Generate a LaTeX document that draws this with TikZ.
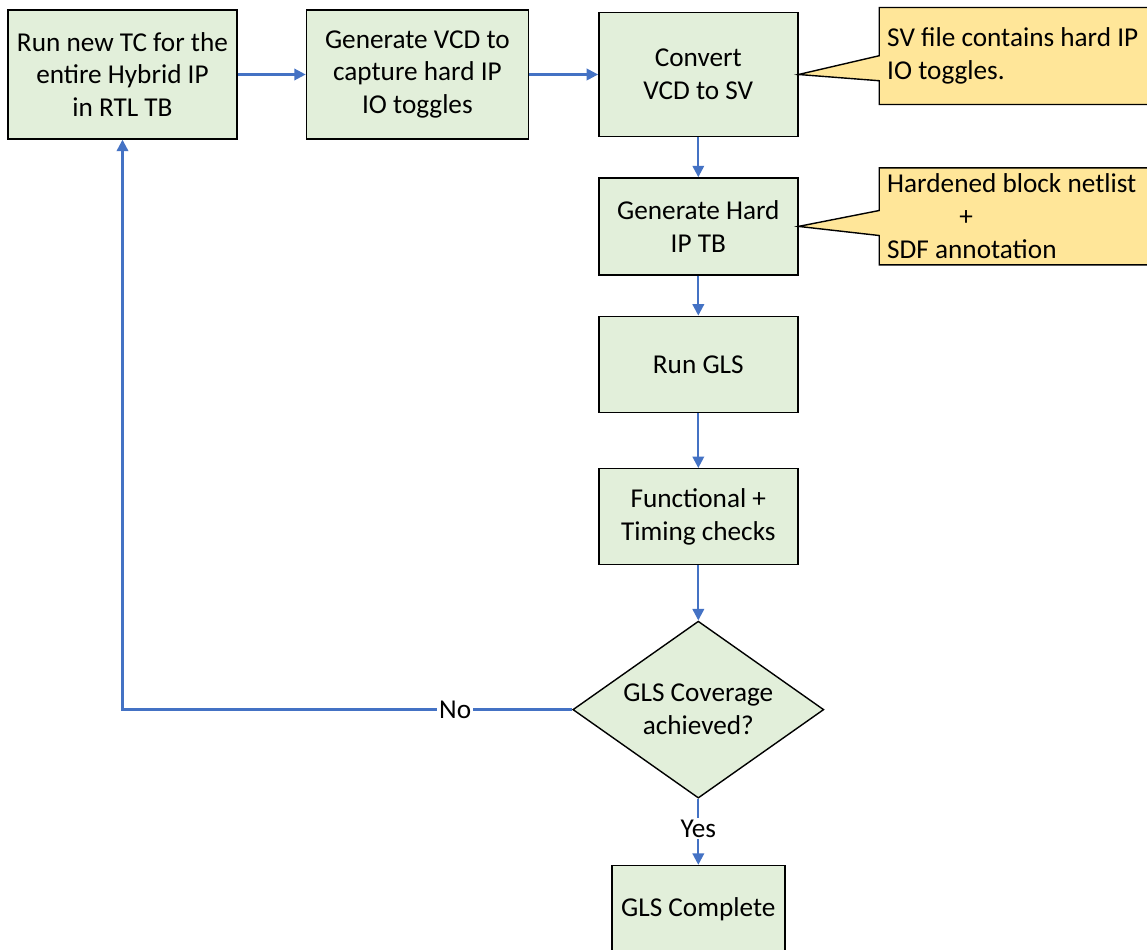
\documentclass[tikz,border=0pt]{standalone}
\usepackage{fontspec}
\setmainfont{Carlito}
\usepackage{tikz}
\usetikzlibrary{positioning, arrows.meta, shapes.geometric, shapes.callouts}
\definecolor{stepgreen}{HTML}{E2EFDA}
\definecolor{noteyellow}{HTML}{FFE699}
\definecolor{flowblue}{HTML}{4472C4}

\begin{document}
\begin{tikzpicture}[
    >={Triangle[length=6.5pt, width=6.5pt]},
    node distance=0.8cm and 1.36cm,
    block/.style={
        rectangle, draw=black, fill=stepgreen, line width=0.8pt,
        align=center, font=\fontsize{15.5}{18.7}\selectfont
    },
    decision/.style={
        diamond, aspect=1.42, draw=black, fill=stepgreen, line width=0.8pt,
        inner sep=0pt, align=center, font=\fontsize{15.5}{18.7}\selectfont,
        minimum width=5.02cm, minimum height=3.54cm
    },
    note/.style={
        rectangle callout, draw=black, fill=noteyellow, line width=0.8pt,
        callout pointer width=0.5cm, align=flush left, text width=6cm,
        inner xsep=0.16cm, font=\fontsize{15.5}{18.7}\selectfont
    },
    arrow/.style={->, line width=1.3pt, draw=flowblue},
    lbl/.style={fill=white, text=black, inner sep=1pt,
        font=\fontsize{15.5}{18.7}\selectfont},
]
\useasboundingbox (0,0) rectangle (22.94,-19);

% ── Top row ────────────────────────────────────────────────────────────────
\node[block, minimum width=4.58cm, minimum height=2.58cm] (runtc) at (2.45,-1.49)
    {Run new TC for the\\entire Hybrid IP\\in RTL TB};
\node[block, right=1.36cm of runtc, minimum width=4.44cm, minimum height=2.58cm] (genvcd)
    {Generate VCD to\\capture hard IP\\IO toggles};
\node[block, right=1.38cm of genvcd, minimum width=3.98cm, minimum height=2.48cm] (convert)
    {Convert\\VCD to SV};

% ── Main column ────────────────────────────────────────────────────────────
\node[block, below=0.8cm of convert, minimum width=3.98cm, minimum height=1.94cm] (gentb)
    {Generate Hard\\IP TB};
\node[block, below=0.8cm of gentb, minimum width=3.98cm, minimum height=1.92cm] (rungls)
    {Run GLS};
\node[block, below=1.1cm of rungls, minimum width=3.98cm, minimum height=1.92cm] (checks)
    {Functional +\\Timing checks};
\node[decision, below=1.1cm of checks] (coverage)
    {GLS Coverage\\achieved?};
\node[block, below=1.32cm of coverage, minimum width=3.46cm, minimum height=1.76cm] (done)
    {GLS Complete};

% ── Callouts ───────────────────────────────────────────────────────────────
\node[note, right=1.6cm of convert, yshift=0.37cm, minimum height=1.94cm,
      callout absolute pointer=(convert.east)] (svnote)
    {SV file contains hard IP\\IO toggles.};
\node[note, right=1.6cm of gentb, yshift=0.2cm, minimum height=1.94cm,
      callout absolute pointer=(gentb.east)] (sdfnote)
    {Hardened block netlist\\\hspace*{41pt}+\\SDF annotation};

% ── Arrows ─────────────────────────────────────────────────────────────────
\draw[arrow] (runtc) -- (genvcd);
\draw[arrow] (genvcd) -- (convert);
\draw[arrow] (convert) -- (gentb);
\draw[arrow] (gentb) -- (rungls);
\draw[arrow] (rungls) -- (checks);
\draw[arrow] (checks) -- (coverage);
\draw[arrow] (coverage) -- node[lbl, pos=0.45] {Yes} (done);
\draw[arrow] (coverage.west) -| node[lbl, pos=0.13] {No} (runtc.south);

\end{tikzpicture}
\end{document}
